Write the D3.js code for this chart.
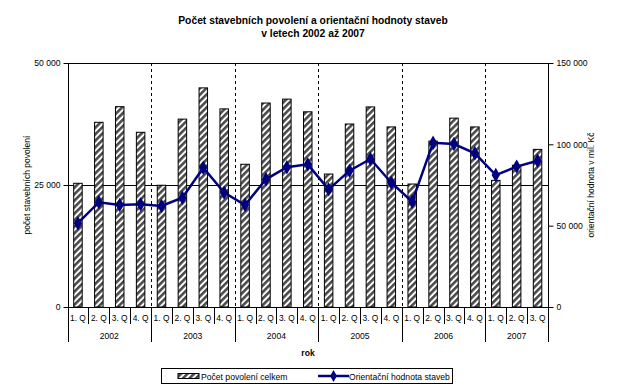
<!DOCTYPE html>
<html><head><meta charset="utf-8">
<script src="https://cdn.jsdelivr.net/npm/d3@7"></script>
<style>body{margin:0;background:#fff}svg{display:block}text{font-family:"Liberation Sans",Arial,sans-serif}</style>
</head><body>
<svg id="c" width="627" height="390"></svg>
<script>
const years = ["2002","2003","2004","2005","2006","2007"];
const quarters = ["1. Q","2. Q","3. Q","4. Q","1. Q","2. Q","3. Q","4. Q","1. Q","2. Q","3. Q","4. Q","1. Q","2. Q","3. Q","4. Q","1. Q","2. Q","3. Q","4. Q","1. Q","2. Q","3. Q"];
const quarterYear = [0,0,0,0,1,1,1,1,2,2,2,2,3,3,3,3,4,4,4,4,5,5,5];
const permits = [25350,37850,41050,35800, 24950,38500,44900,40600, 29250,41800,42600,40000, 27250,37500,41000,36900, 25200,34000,38700,36900, 25950,29050,32300];
const values = [51500,64400,62700,63100, 62100,67200,85600,70300, 62700,78500,85900,87700, 72300,83800,91000,76400, 64700,101000,100200,94500, 81100,86300,89900];
const leftTicks = [0,25000,50000];
const rightTicks = [0,50000,100000,150000];

const svg = d3.select("#c");
const L = 67.5, R = 548, T = 63, B = 307;
const n = quarters.length;
const x = d3.scaleBand().domain(d3.range(n)).range([L, R]).paddingInner(0).paddingOuter(0);
const yL = d3.scaleLinear().domain([0,50000]).range([B, T]);
const yR = d3.scaleLinear().domain([0,150000]).range([B, T]);
const fmt = v => d3.format(",")(v).replace(/,/g, " ");

const defs = svg.append("defs");
const pat = defs.append("pattern").attr("id","hatch").attr("patternUnits","userSpaceOnUse")
  .attr("width",4.6).attr("height",4.6).attr("patternTransform","rotate(45)");
pat.append("rect").attr("width",4.6).attr("height",4.6).attr("fill","#fff");
pat.append("rect").attr("width",2.6).attr("height",4.6).attr("fill","#4a4a4a");

// Title
svg.append("text").attr("x",313).attr("y",24).attr("text-anchor","middle").attr("font-size",10.3).attr("font-weight","bold").text("Počet stavebních povolení a orientační hodnoty staveb");
svg.append("text").attr("x",313).attr("y",37).attr("text-anchor","middle").attr("font-size",10.3).attr("font-weight","bold").text("v letech 2002 až 2007");

// gridlines
svg.append("g").selectAll("line").data(leftTicks.filter(d=>d>0)).join("line")
  .attr("x1",L).attr("x2",R).attr("y1",d=>Math.round(yL(d))+0.5).attr("y2",d=>Math.round(yL(d))+0.5)
  .attr("stroke","#000").attr("stroke-width",1);

// year dashed separators
const sepIdx = [4,8,12,16,20];
svg.append("g").selectAll("line").data(sepIdx).join("line")
  .attr("x1",d=>Math.round(x(d))+0.5).attr("x2",d=>Math.round(x(d))+0.5).attr("y1",T).attr("y2",B)
  .attr("stroke","#000").attr("stroke-dasharray","3,3");

// bars
const bw = 8.5;
svg.append("g").selectAll("rect").data(permits).join("rect")
  .attr("x",(d,i)=>x(i)+x.bandwidth()/2-bw/2).attr("width",bw)
  .attr("y",d=>yL(d)).attr("height",d=>B-yL(d))
  .attr("fill","url(#hatch)").attr("stroke","#000").attr("stroke-width",1);

// axes
const axL = d3.axisLeft(yL).tickValues(leftTicks).tickFormat(fmt).tickSize(5).tickPadding(3);
const gL = svg.append("g").attr("transform",`translate(${Math.round(L)+0.5},0)`).call(axL);
const axRt = d3.axisRight(yR).tickValues(rightTicks).tickFormat(fmt).tickSize(5).tickPadding(3);
const gR = svg.append("g").attr("transform",`translate(${Math.round(R)+0.5},0)`).call(axRt);
[gL,gR].forEach(g=>{
  g.select(".domain").remove();
  g.selectAll("text").attr("font-size",8.6).attr("fill","#000").style("font-family","Liberation Sans, Arial, sans-serif");
  g.selectAll("line").attr("stroke","#000");
});
// axis lines extended
svg.append("line").attr("x1",Math.round(L)+0.5).attr("x2",Math.round(L)+0.5).attr("y1",T).attr("y2",342).attr("stroke","#000");
svg.append("line").attr("x1",Math.round(R)+0.5).attr("x2",Math.round(R)+0.5).attr("y1",T).attr("y2",342).attr("stroke","#000");
svg.append("line").attr("x1",L).attr("x2",R).attr("y1",B+0.5).attr("y2",B+0.5).attr("stroke","#000");

// category separators
svg.append("g").selectAll("line").data(d3.range(1,n)).join("line")
  .attr("x1",d=>Math.round(x(d))+0.5).attr("x2",d=>Math.round(x(d))+0.5)
  .attr("y1",B).attr("y2",d=>sepIdx.includes(d)?342:324).attr("stroke","#000");

svg.append("g").selectAll("text").data(quarters).join("text")
  .attr("x",(d,i)=>x(i)+x.bandwidth()/2).attr("y",321).attr("text-anchor","middle").attr("font-size",8.4).text(d=>d);

svg.append("g").selectAll("text").data(years).join("text")
  .attr("x",(d,j)=>{const idx=d3.range(n).filter(i=>quarterYear[i]===j);return (x(idx[0])+x(idx[idx.length-1])+x.bandwidth())/2;})
  .attr("y",339).attr("text-anchor","middle").attr("font-size",8.6).text(d=>d);

svg.append("text").attr("x",308).attr("y",356).attr("text-anchor","middle").attr("font-size",8.6).attr("font-weight","bold").text("rok");

svg.append("text").attr("transform","translate(30,185) rotate(-90)").attr("text-anchor","middle").attr("font-size",8.5).text("počet stavebních povolení");
svg.append("text").attr("transform","translate(594,185) rotate(-90)").attr("text-anchor","middle").attr("font-size",8.5).text("orientační hodnota v mil. Kč");

// line
const line = d3.line().x((d,i)=>x(i)+x.bandwidth()/2).y(d=>yR(d));
svg.append("path").datum(values).attr("d",line).attr("fill","none").attr("stroke","#000080").attr("stroke-width",2.5);
svg.append("g").selectAll("path").data(values).join("path")
  .attr("transform",(d,i)=>`translate(${x(i)+x.bandwidth()/2},${yR(d)})`)
  .attr("d",d3.symbol().type(d3.symbolDiamond).size(60)).attr("fill","#000080");

// legend
svg.append("rect").attr("x",161.5).attr("y",368.5).attr("width",291).attr("height",15).attr("fill","none").attr("stroke","#000");
svg.append("rect").attr("x",178).attr("y",373.5).attr("width",21).attr("height",5).attr("fill","url(#hatch)").attr("stroke","#000");
svg.append("text").attr("x",201).attr("y",380).attr("font-size",8.6).text("Počet povolení celkem");
svg.append("line").attr("x1",318).attr("x2",349).attr("y1",376).attr("y2",376).attr("stroke","#000080").attr("stroke-width",2.5);
svg.append("path").attr("transform","translate(333.5,376)").attr("d",d3.symbol().type(d3.symbolDiamond).size(40)).attr("fill","#000080");
svg.append("text").attr("x",349).attr("y",380).attr("font-size",8.6).text("Orientační hodnota staveb");
</script>
</body></html>
